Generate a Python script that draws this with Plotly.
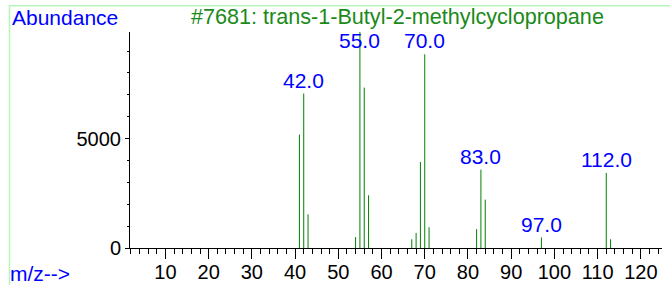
import plotly.graph_objects as go

# ---- data ----
mz = [41, 42, 43, 54, 55, 56, 57, 67, 68, 69, 70, 71, 82, 83, 84, 97, 112, 113]
abundance = [5180, 7060, 1540, 500, 9870, 7330, 2410, 400, 690, 3930, 8850, 950,
             860, 3580, 2210, 480, 3430, 400]
labeled_mz = [42, 55, 70, 83, 97, 112]
title_text = "#7681: trans-1-Butyl-2-methylcyclopropane"
x_tick_vals = [10, 20, 30, 40, 50, 60, 70, 80, 90, 100, 110, 120]
y_tick_vals = [0, 5000]

W, H = 670, 285
L, R, T, B = 130, 8, 32, 37
pw, ph = W - L - R, H - T - B
ymax = max(abundance)
label_cap = 0.897 * ymax

def px2paper_x(px):
    return (px - L) / pw

def py2paper_y(py):
    return (H - B - py) / ph

xs, ys = [], []
for m, v in zip(mz, abundance):
    xs += [m, m, None]
    ys += [0, v, None]

fig = go.Figure()
fig.add_trace(go.Scatter(x=xs, y=ys, mode="lines",
                         line=dict(color="#008000", width=1),
                         hoverinfo="skip", showlegend=False))

FONT = "Liberation Sans, Arial, sans-serif"
annotations = []
for m in labeled_mz:
    v = abundance[mz.index(m)]
    annotations.append(dict(x=m, y=min(v, label_cap), xref="x", yref="y",
                            text=f"{m:.1f}", showarrow=False,
                            xanchor="center", yanchor="bottom", yshift=0,
                            font=dict(family=FONT, size=21, color="#0000ff")))

annotations.append(dict(x=px2paper_x(10), y=py2paper_y(31), xref="paper", yref="paper",
                        text="Abundance", showarrow=False, xanchor="left", yanchor="bottom",
                        font=dict(family=FONT, size=21, color="#0000ff")))
annotations.append(dict(x=px2paper_x(397), y=py2paper_y(31), xref="paper", yref="paper",
                        text=title_text, showarrow=False, xanchor="center", yanchor="bottom",
                        font=dict(family=FONT, size=21.6, color="#1a8a1a")))
annotations.append(dict(x=px2paper_x(8), y=py2paper_y(287), xref="paper", yref="paper",
                        text="m/z-->", showarrow=False, xanchor="left", yanchor="bottom",
                        font=dict(family=FONT, size=21, color="#0000ff")))

shapes = [dict(type="rect", xref="paper", yref="paper",
               x0=px2paper_x(9.5), x1=px2paper_x(720),
               y0=py2paper_y(320), y1=py2paper_y(5.7),
               line=dict(color="#b8f5b8", width=1.5), layer="below")]

fig.update_layout(
    width=W, height=H,
    margin=dict(l=L, r=R, t=T, b=B, pad=0, autoexpand=False),
    paper_bgcolor="white", plot_bgcolor="white",
    font=dict(family=FONT, size=20, color="black"),
    annotations=annotations, shapes=shapes,
    showlegend=False,
    xaxis=dict(range=[1.8, 124.9], tickmode="array", tickvals=x_tick_vals,
               automargin=False, ticklabelstandoff=-4,
               ticks="outside", ticklen=10, tickcolor="black", tickwidth=1,
               showline=True, linecolor="black", linewidth=1,
               showgrid=False, zeroline=False,
               tickfont=dict(family=FONT, size=20, color="black"),
               minor=dict(dtick=2, tick0=0, ticks="outside", ticklen=5,
                          tickcolor="black", showgrid=False)),
    yaxis=dict(range=[0, ymax], tickmode="array", tickvals=y_tick_vals,
               automargin=False,
               ticks="outside", ticklen=4, tickcolor="black", tickwidth=1,
               showline=True, linecolor="black", linewidth=1,
               showgrid=False, zeroline=False,
               tickfont=dict(family=FONT, size=20, color="black"),
               minor=dict(dtick=1000, tick0=0, ticks="outside", ticklen=2,
                          tickcolor="black", showgrid=False)),
)

fig.write_html("out.html", config={"displayModeBar": False, "staticPlot": True},
               post_script="document.body.style.margin='0';document.body.style.overflow='hidden';")
